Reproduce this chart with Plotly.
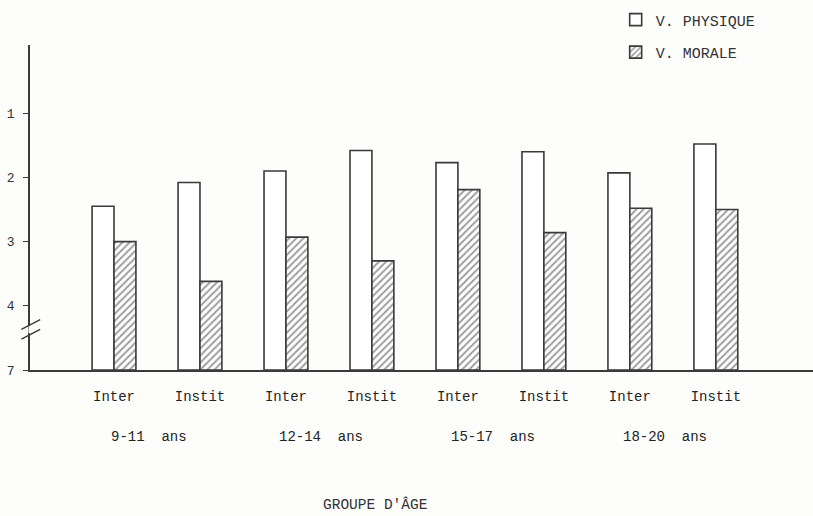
import plotly.graph_objects as go

# ---- data ----
categories = ["Inter", "Instit", "Inter", "Instit", "Inter", "Instit", "Inter", "Instit"]
age_groups = ["9-11  ans", "12-14  ans", "15-17  ans", "18-20  ans"]
v_physique = [2.45, 2.08, 1.90, 1.58, 1.77, 1.60, 1.93, 1.48]
v_morale = [3.00, 3.62, 2.93, 3.30, 2.19, 2.86, 2.48, 2.50]
y_tick_labels = ["1", "2", "3", "4", "7"]
y_tick_values = [1, 2, 3, 4, 7]

# axis break: values above 4 are compressed so that 7 sits one unit below 4
def axis_pos(v):
    return v if v <= 4 else 4 + (v - 4) / 3.0

BASE = axis_pos(7)
x = list(range(len(categories)))

FONT = "Liberation Mono, Courier New, monospace"
INK = "#3a3a3a"
BG = "#fdfdfc"

fig = go.Figure()
fig.add_trace(go.Bar(
    x=x, y=[axis_pos(v) - BASE for v in v_physique], base=[BASE] * len(x),
    name="V. PHYSIQUE", legendgroup="p",
    marker=dict(color="white", line=dict(color=INK, width=1.6)),
))
fig.add_trace(go.Bar(
    x=x, y=[axis_pos(v) - BASE for v in v_morale], base=[BASE] * len(x),
    name="V. MORALE", legendgroup="m",
    marker=dict(color="white", line=dict(color=INK, width=1.6),
                pattern=dict(shape="/", fgcolor="#3c3c3c", bgcolor="white",
                             size=5, solidity=0.4)),
))

# age group labels
for i, g in enumerate(age_groups):
    fig.add_annotation(x=2 * i + 0.5, xshift=-8, xref="x", y=-0.206, yref="paper",
                       text=g, showarrow=False, yanchor="middle",
                       font=dict(family=FONT, size=14, color="#222"))

fig.add_annotation(x=0.4406, xref="paper", y=-0.415, yref="paper",
                   text="GROUPE D'ÂGE", showarrow=False, yanchor="middle",
                   font=dict(family=FONT, size=14.5, color="#333"))

# axis break marks
fig.add_shape(type="line", xref="paper", yref="paper",
              x0=0, x1=0, y0=0.113, y1=0.135, line=dict(color=BG, width=3))
for dy in (0.0, 0.03):
    fig.add_shape(type="line", xref="paper", yref="paper",
                  x0=-0.011, x1=0.013, y0=0.095 + dy, y1=0.125 + dy,
                  line=dict(color=INK, width=1.4))

fig.update_layout(
    width=813, height=516,
    margin=dict(l=30, r=0, t=45, b=146),
    paper_bgcolor=BG, plot_bgcolor=BG,
    barmode="group", bargap=0.49, bargroupgap=0,
    font=dict(family=FONT, size=14, color="#222"),
    showlegend=True,
    legend=dict(x=0.748, xanchor="left", y=1.128, yanchor="top",
                bgcolor="rgba(0,0,0,0)", tracegroupgap=10,
                traceorder="grouped",
                font=dict(family=FONT, size=15, color="#333")),
    xaxis=dict(
        range=[-0.977, 8.13], tickmode="array", tickvals=x, ticktext=categories,
        showline=True, linecolor=INK, linewidth=2, showgrid=False, zeroline=False,
        ticks="outside", ticklen=12, tickcolor="rgba(0,0,0,0)",
        tickfont=dict(family=FONT, size=14, color="#222"),
    ),
    yaxis=dict(
        range=[BASE, -0.0625], tickmode="array",
        tickvals=[axis_pos(v) for v in y_tick_values], ticktext=y_tick_labels,
        showline=True, linecolor=INK, linewidth=1.6, showgrid=False, zeroline=False,
        ticks="outside", ticklen=5, tickcolor=INK, ticklabelstandoff=6,
        tickfont=dict(family=FONT, size=13, color="#333"),
    ),
)

fig.write_html("out.html", config={"displayModeBar": False},
               post_script="document.body.style.margin='0';document.body.style.background='%s';" % BG)
